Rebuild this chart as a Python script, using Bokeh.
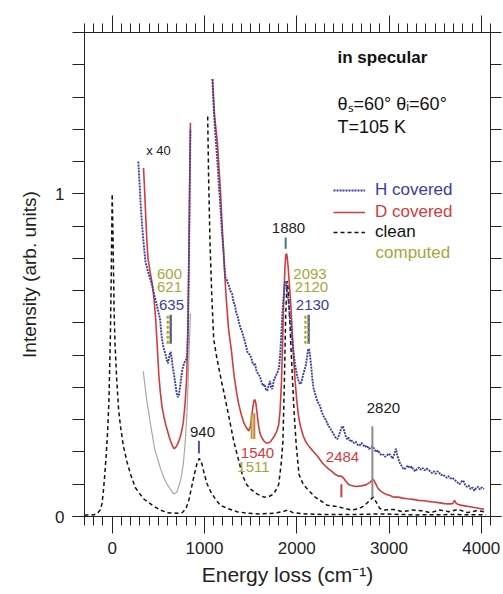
from bokeh.plotting import figure
from bokeh.models import (LinearAxis, SingleIntervalTicker, FixedTicker, Range1d,
                          Label, Legend, LegendItem, ColumnDataSource, CustomJSTickFormatter)
from bokeh.core.properties import value
from bokeh.embed import file_html
from bokeh.resources import INLINE

FONT = "Liberation Sans"
BLUE = "#3a409c"
RED = "#d23c3c"
OLIVE = "#a9a53a"
GREY = "#a8a8a8"

# ---------------- data ----------------
# clean surface, unscaled (elastic peak + 940 phonon)
clean_x = [-300, -250, -200, -160, -130, -110, -95, -80, -65, -50, -35, -20, -10, 0, 10, 20, 30, 50, 70, 90,
           120, 160, 200, 250, 300, 340, 400, 450, 520, 600, 700, 760, 800, 830, 860, 890, 920, 945, 970,
           1000, 1030, 1080, 1130, 1170, 1250, 1350, 1470, 1600, 1750, 1850, 1900, 1960, 2100, 2300, 2600,
           2900, 3300, 3700, 4050]
clean_y = [0.004, 0.006, 0.005, 0.01, 0.02, 0.04, 0.08, 0.13, 0.19, 0.26, 0.36, 0.55, 0.75, 1.0, 0.85, 0.65,
           0.54, 0.42, 0.33, 0.28, 0.22, 0.17, 0.13, 0.09, 0.07, 0.055, 0.042, 0.032, 0.02, 0.012, 0.01, 0.012,
           0.025, 0.05, 0.09, 0.13, 0.165, 0.18, 0.165, 0.13, 0.10, 0.07, 0.05, 0.035, 0.025, 0.015, 0.01,
           0.008, 0.01, 0.015, 0.02, 0.012, 0.008, 0.006, 0.006, 0.008, 0.005, 0.006, 0.005]

# clean surface x40, low-energy part (grey) and high-energy part (dashed)
clean40a_x = [337, 370, 413, 460, 522, 560, 595, 630, 667, 700, 740, 770, 793, 810, 826, 837, 848]
clean40a_y = [0.45, 0.37, 0.29, 0.21, 0.15, 0.12, 0.10, 0.085, 0.07, 0.075, 0.11, 0.16, 0.235, 0.32, 0.44,
              0.545, 0.63]
clean40b_x = [1035, 1045, 1060, 1080, 1100, 1135, 1170, 1210, 1250, 1285, 1320, 1365, 1410, 1455, 1500, 1570,
              1645, 1700, 1750, 1780, 1805, 1830, 1850, 1865, 1880, 1895, 1910, 1935, 1955, 1970, 1995, 2025,
              2070, 2115, 2200, 2330, 2450, 2590, 2680, 2740, 2790, 2830, 2860, 2900, 2950, 3050, 3150, 3250,
              3350, 3450, 3550, 3650, 3750, 3850, 3950, 4030]
clean40b_y = [1.24, 1.05, 0.85, 0.68, 0.55, 0.49, 0.44, 0.385, 0.33, 0.28, 0.23, 0.18, 0.13, 0.10, 0.085, 0.07,
              0.06, 0.062, 0.07, 0.085, 0.10, 0.16, 0.23, 0.40, 0.62, 0.73, 0.70, 0.54, 0.42, 0.33, 0.22, 0.13,
              0.10, 0.085, 0.06, 0.035, 0.03, 0.02, 0.025, 0.035, 0.05, 0.06, 0.045, 0.025, 0.02, 0.022, 0.015,
              0.02, 0.018, 0.012, 0.02, 0.015, 0.022, 0.012, 0.018, 0.015]

# D covered x40
d1_x = [340, 350, 362, 375, 388, 410, 435, 455, 472, 490, 505, 520, 540, 560, 580, 600, 620, 640, 660, 672,
        690, 710, 730, 750, 770, 790, 805, 815, 822, 830, 838, 848]
d1_y = [1.08, 1.02, 0.94, 0.86, 0.80, 0.76, 0.72, 0.67, 0.61, 0.52, 0.44, 0.39, 0.34, 0.31, 0.285, 0.265,
        0.245, 0.228, 0.215, 0.21, 0.215, 0.225, 0.24, 0.26, 0.29, 0.35, 0.42, 0.50, 0.62, 0.78, 0.98, 1.22]
d2_x = [1087, 1098, 1110, 1125, 1140, 1158, 1175, 1190, 1207, 1222, 1235, 1248, 1260, 1275, 1290, 1305, 1320,
        1345, 1370, 1400, 1427, 1455, 1480, 1498, 1512, 1525, 1538, 1548, 1558, 1570, 1585, 1600, 1615, 1630,
        1650, 1670, 1690, 1717, 1740, 1760, 1785, 1805, 1820, 1835, 1848, 1860, 1872, 1882, 1890, 1898, 1908,
        1920, 1935, 1950, 1965, 1980, 2000, 2020, 2040, 2070, 2100, 2140, 2185, 2230, 2280, 2335, 2380, 2420,
        2455, 2480, 2505, 2530, 2560, 2590, 2640, 2700, 2750, 2790, 2815, 2830, 2850, 2875, 2910, 2960, 3010,
        3055, 3100, 3150, 3200, 3260, 3320, 3380, 3420, 3480, 3540, 3600, 3650, 3690, 3710, 3730, 3760, 3820,
        3880, 3940, 4000, 4030]
d2_y = [1.356, 1.30, 1.24, 1.20, 1.16, 1.08, 1.0, 0.91, 0.82, 0.74, 0.68, 0.63, 0.585, 0.55, 0.52, 0.48, 0.44,
        0.39, 0.35, 0.315, 0.29, 0.275, 0.265, 0.28, 0.31, 0.34, 0.36, 0.362, 0.35, 0.32, 0.285, 0.26, 0.248,
        0.24, 0.232, 0.228, 0.228, 0.232, 0.242, 0.25, 0.265, 0.285, 0.33, 0.42, 0.55, 0.68, 0.77, 0.81, 0.815,
        0.80, 0.77, 0.72, 0.66, 0.58, 0.50, 0.43, 0.36, 0.31, 0.28, 0.25, 0.23, 0.215, 0.20, 0.185, 0.165,
        0.15, 0.14, 0.13, 0.125, 0.125, 0.12, 0.11, 0.10, 0.096, 0.093, 0.095, 0.098, 0.105, 0.112, 0.115,
        0.105, 0.09, 0.078, 0.07, 0.065, 0.06, 0.06, 0.057, 0.055, 0.053, 0.05, 0.049, 0.047, 0.045, 0.043,
        0.04, 0.039, 0.04, 0.05, 0.04, 0.036, 0.033, 0.03, 0.027, 0.024, 0.022]

# H covered x40
h1_x = [283, 295, 310, 325, 340, 360, 378, 392, 408, 420, 433, 446, 462, 480, 500, 520, 530, 540, 552, 565,
        580, 592, 605, 615, 625, 635, 645, 655, 670, 685, 697, 710, 722, 735, 748, 760, 775, 788, 800, 812,
        822, 830, 838, 848]
h1_y = [1.10, 1.04, 0.96, 0.90, 0.85, 0.79, 0.77, 0.755, 0.74, 0.73, 0.715, 0.70, 0.68, 0.66, 0.635, 0.61,
        0.575, 0.55, 0.53, 0.515, 0.50, 0.485, 0.475, 0.49, 0.505, 0.51, 0.49, 0.465, 0.44, 0.41, 0.385, 0.37,
        0.375, 0.40, 0.43, 0.455, 0.47, 0.48, 0.485, 0.50, 0.58, 0.75, 0.95, 1.20]
h2_x = [1087, 1098, 1110, 1125, 1140, 1158, 1175, 1190, 1207, 1218, 1228, 1240, 1252, 1265, 1280, 1300, 1315,
        1330, 1345, 1360, 1375, 1390, 1405, 1420, 1435, 1450, 1465, 1480, 1495, 1510, 1522, 1535, 1548, 1560,
        1575, 1590, 1605, 1620, 1635, 1650, 1665, 1680, 1695, 1710, 1722, 1735, 1750, 1765, 1780, 1795, 1808,
        1820, 1832, 1845, 1858, 1870, 1880, 1890, 1900, 1912, 1925, 1938, 1950, 1965, 1980, 1995, 2010, 2025,
        2040, 2055, 2070, 2085, 2100, 2112, 2122, 2132, 2142, 2155, 2168, 2180, 2195, 2210, 2225, 2240, 2255,
        2270, 2285, 2300, 2315, 2330, 2345, 2360, 2380, 2400, 2420, 2440, 2455, 2470, 2485, 2500, 2515, 2530,
        2545, 2560, 2575, 2590, 2605, 2620, 2640, 2660, 2680, 2700, 2720, 2740, 2760, 2780, 2800, 2820, 2840,
        2860, 2880, 2900, 2920, 2940, 2960, 2980, 3000, 3020, 3040, 3060, 3075, 3090, 3110, 3130, 3150, 3165,
        3185, 3205, 3225, 3245, 3265, 3285, 3305, 3325, 3345, 3365, 3385, 3405, 3425, 3445, 3465, 3485, 3505,
        3525, 3545, 3565, 3585, 3605, 3625, 3645, 3665, 3685, 3705, 3725, 3745, 3765, 3785, 3805, 3825, 3845,
        3865, 3885, 3905, 3925, 3945, 3965, 3985, 4005, 4030]
h2_y = [1.356, 1.28, 1.22, 1.16, 1.10, 1.02, 0.95, 0.88, 0.82, 0.77, 0.74, 0.735, 0.725, 0.715, 0.70, 0.69,
        0.665, 0.655, 0.63, 0.62, 0.60, 0.585, 0.575, 0.56, 0.545, 0.53, 0.51, 0.505, 0.50, 0.49, 0.475, 0.47,
        0.475, 0.455, 0.445, 0.44, 0.43, 0.415, 0.405, 0.41, 0.395, 0.39, 0.405, 0.42, 0.40, 0.395, 0.42, 0.43,
        0.44, 0.45, 0.46, 0.50, 0.56, 0.63, 0.68, 0.72, 0.73, 0.71, 0.69, 0.665, 0.62, 0.585, 0.55, 0.51, 0.475,
        0.45, 0.43, 0.415, 0.41, 0.42, 0.44, 0.455, 0.47, 0.495, 0.515, 0.52, 0.505, 0.47, 0.43, 0.40, 0.385,
        0.37, 0.355, 0.35, 0.34, 0.325, 0.315, 0.305, 0.30, 0.29, 0.28, 0.275, 0.265, 0.255, 0.245, 0.24, 0.25,
        0.262, 0.275, 0.28, 0.265, 0.25, 0.24, 0.245, 0.235, 0.238, 0.23, 0.228, 0.232, 0.222, 0.22, 0.228,
        0.222, 0.215, 0.22, 0.21, 0.212, 0.218, 0.21, 0.20, 0.205, 0.195, 0.19, 0.192, 0.185, 0.19, 0.195,
        0.188, 0.18, 0.195, 0.21, 0.19, 0.17, 0.16, 0.15, 0.146, 0.152, 0.158, 0.15, 0.155, 0.145, 0.14, 0.148,
        0.152, 0.145, 0.15, 0.143, 0.148, 0.146, 0.14, 0.135, 0.14, 0.132, 0.14, 0.135, 0.128, 0.13, 0.125,
        0.12, 0.125, 0.118, 0.12, 0.115, 0.11, 0.105, 0.10, 0.108, 0.112, 0.098, 0.092, 0.096, 0.085, 0.09,
        0.08, 0.088, 0.092, 0.084, 0.09, 0.085]

# peak markers (wavenumber) and their labels
mark_x = [600, 621, 635, 2093, 2120, 2130, 1880, 940, 1511, 1540, 2484, 2820]
mark_y0 = [0.535, 0.535, 0.535, 0.535, 0.535, 0.535, 0.83, 0.195, 0.24, 0.24, 0.06, 0.06]
mark_y1 = [0.625, 0.625, 0.625, 0.625, 0.625, 0.625, 0.865, 0.235, 0.32, 0.32, 0.10, 0.28]
mark_color = [OLIVE, OLIVE, BLUE, OLIVE, OLIVE, BLUE, "#3f7777", "#4a5a9a", OLIVE, "#d07a3a", RED, "#8c8c8c"]
mark_dash = ["dashed", "dashed", "solid", "dashed", "dashed", "solid", "solid", "solid", "solid", "solid",
             "solid", "solid"]

label_text = ["600", "621", "635", "2093", "2120", "2130", "1880", "940", "1540", "1511", "2484", "2820"]
label_x = [621, 621, 643, 2144, 2160, 2171, 1911, 979, 1575, 1531, 2496, 2940]
label_y = [0.752, 0.71, 0.657, 0.753, 0.71, 0.657, 0.893, 0.263, 0.198, 0.152, 0.183, 0.335]
label_color = [OLIVE, OLIVE, BLUE, OLIVE, OLIVE, BLUE, "#222222", "#222222", RED, OLIVE, RED, "#222222"]

# ---------------- figure ----------------
p = figure(width=503, height=594, x_range=Range1d(-300, 4100), y_range=Range1d(0, 1.5),
           output_backend="svg", toolbar_location=None,
           min_border_left=84, min_border_right=13, min_border_top=32, min_border_bottom=78,
           x_axis_label="Energy loss (cm⁻¹)", y_axis_label="Intensity (arb. units)")
p.grid.visible = False
p.outline_line_color = "#222222"
p.background_fill_color = "white"
p.border_fill_color = "white"

xt = SingleIntervalTicker(interval=1000, num_minor_ticks=10)
yt = FixedTicker(ticks=[0, 1], minor_ticks=[round(0.1 * k, 1) for k in range(0, 16)])

xa = p.xaxis[0]
xa.ticker = xt
xa.major_tick_out = 17
xa.major_tick_in = 0
xa.minor_tick_out = 9
xa.minor_tick_in = 0
xa.major_label_text_font_size = "17px"
xa.major_label_text_font = FONT
xa.major_label_standoff = 8
xa.axis_label_text_font_size = "21px"
xa.axis_label_text_font = FONT
xa.axis_label_text_font_style = "normal"
xa.axis_label_standoff = 6

ya = p.yaxis[0]
ya.ticker = yt
ya.major_tick_out = 12
ya.major_tick_in = 0
ya.minor_tick_out = 12
ya.minor_tick_in = 0
ya.major_label_text_font_size = "17px"
ya.major_label_text_font = FONT
ya.major_label_standoff = 8
ya.axis_label_text_font_size = "19px"
ya.axis_label_text_font = FONT
ya.axis_label_text_font_style = "normal"
ya.axis_label_standoff = 12

for ax in (xa, ya):
    ax.axis_line_color = "#222222"
    ax.major_tick_line_color = "#222222"
    ax.minor_tick_line_color = "#222222"
    ax.major_label_text_color = "#222222"
    ax.axis_label_text_color = "#222222"

blank = CustomJSTickFormatter(code="return ''")
top = LinearAxis(ticker=SingleIntervalTicker(interval=1000, num_minor_ticks=10), formatter=blank,
                 major_tick_out=17, major_tick_in=0, minor_tick_out=9, minor_tick_in=0,
                 major_label_standoff=0,
                 axis_line_color="#222222", major_tick_line_color="#222222", minor_tick_line_color="#222222")
p.add_layout(top, "above")
right = LinearAxis(ticker=FixedTicker(ticks=[0, 1], minor_ticks=[round(0.1 * k, 1) for k in range(0, 16)]),
                   formatter=blank,
                   major_tick_out=11, major_tick_in=0, minor_tick_out=11, minor_tick_in=0,
                   major_label_standoff=0,
                   axis_line_color="#222222", major_tick_line_color="#222222", minor_tick_line_color="#222222")
p.add_layout(right, "right")

# ---------------- curves ----------------
p.line(clean_x, clean_y, line_color="#111111", line_width=1.5, line_dash="4 3")
p.line(clean40a_x, clean40a_y, line_color=GREY, line_width=1.2)
clean_r = p.line(clean40b_x, clean40b_y, line_color="#111111", line_width=1.5, line_dash="4 3")
d_r = p.line(d1_x, d1_y, line_color=RED, line_width=1.6)
p.line(d2_x, d2_y, line_color=RED, line_width=1.6)
h_r = p.line(h1_x, h1_y, line_color=BLUE, line_width=1.9, line_dash="2 1")
p.line(h2_x, h2_y, line_color=BLUE, line_width=1.9, line_dash="2 1")

# peak markers
for dash in ("solid", "dashed"):
    idx = [i for i, d in enumerate(mark_dash) if d == dash]
    p.segment(x0=[mark_x[i] for i in idx], y0=[mark_y0[i] for i in idx],
              x1=[mark_x[i] for i in idx], y1=[mark_y1[i] for i in idx],
              line_color=[mark_color[i] for i in idx], line_width=2,
              line_dash=("solid" if dash == "solid" else "3 2"))

lsrc = ColumnDataSource(dict(x=label_x, y=label_y, t=label_text, c=label_color))
p.text(x="x", y="y", text="t", text_color="c", source=lsrc, text_font=value(FONT),
       text_font_size="15px", text_align="center", text_baseline="middle")

p.add_layout(Label(x=502, y=1.134, text="x 40", text_font=FONT, text_font_size="13px",
                   text_align="center", text_baseline="middle", text_color="#222222"))

# top-right captions
p.add_layout(Label(x=2442, y=1.422, text="in specular", text_font=FONT, text_font_size="17px",
                   text_font_style="bold", text_baseline="middle", text_color="#111111"))
p.add_layout(Label(x=2442, y=1.277, text="θₛ=60° θᵢ=60°", text_font=FONT, text_font_size="18px",
                   text_baseline="middle", text_color="#111111"))
p.add_layout(Label(x=2442, y=1.206, text="T=105 K", text_font=FONT, text_font_size="18px",
                   text_baseline="middle", text_color="#111111"))

# legend entries (one legend per entry so each label gets its own colour)
def make_legend(label, rend, color, loc):
    lg = Legend(items=[LegendItem(label=label, renderers=[rend])], location=loc,
                label_text_color=color, label_text_font=FONT, label_text_font_size="17px",
                glyph_width=32, glyph_height=20, label_height=20, label_standoff=10,
                padding=0, margin=0, spacing=0, border_line_color=None, background_fill_alpha=0)
    p.add_layout(lg)

make_legend("H covered", h_r, BLUE, (249, 316))
make_legend("D covered", d_r, RED, (249, 294))
make_legend("clean", clean_r, "#111111", (249, 274))
p.add_layout(Label(x=2854, y=0.818, text="computed", text_font=FONT, text_font_size="17px",
                   text_baseline="middle", text_color=OLIVE))

open("out.html", "w").write(file_html(p, INLINE))
